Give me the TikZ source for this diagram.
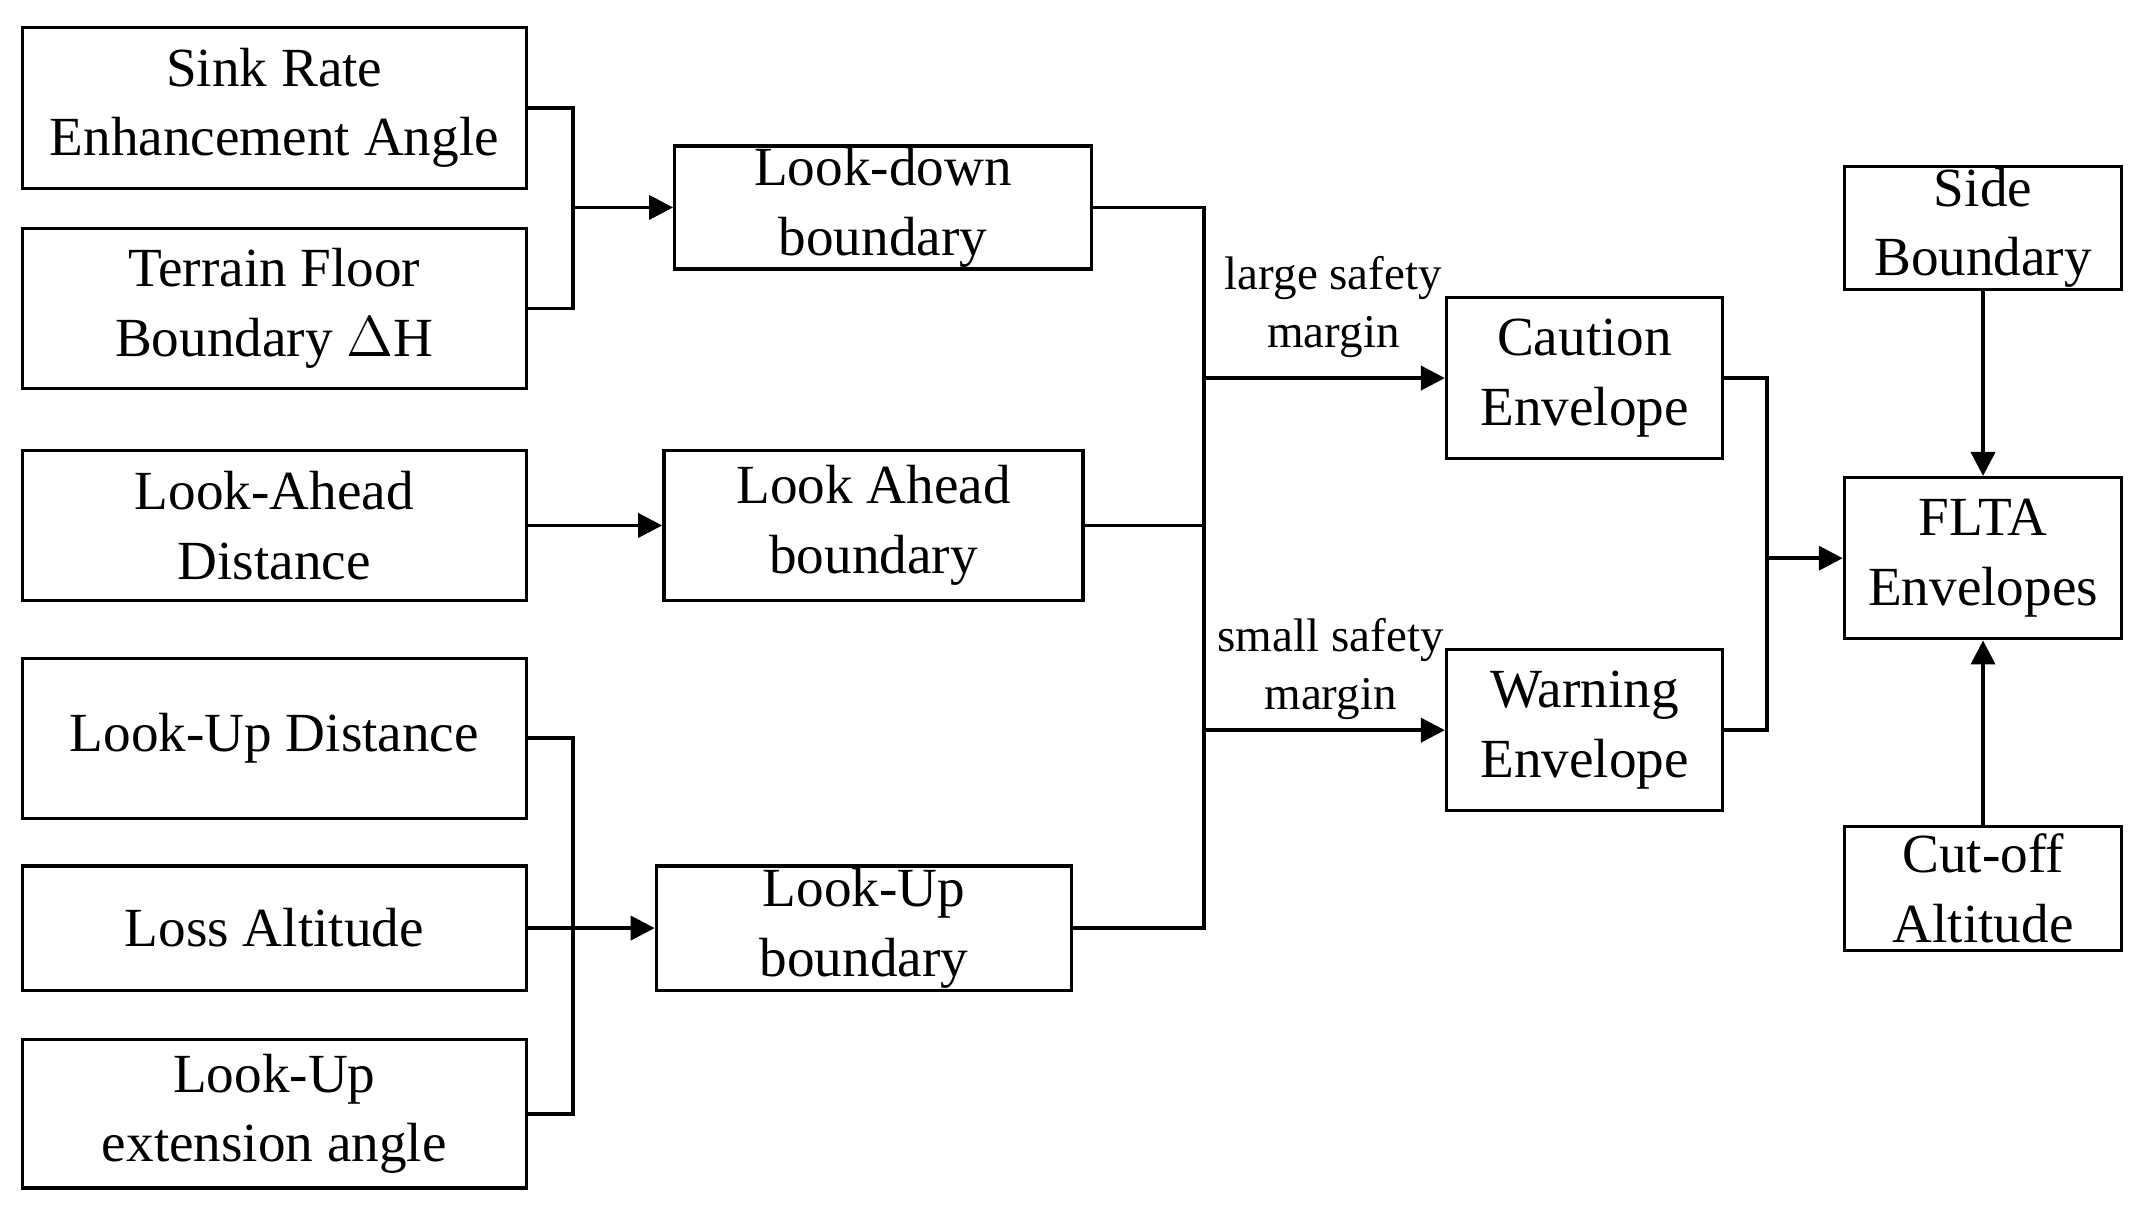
\documentclass[tikz,border=0pt]{standalone}
\usepackage{fontspec}
\setmainfont{Liberation Serif}
\usetikzlibrary{arrows.meta}
\begin{document}
\begin{tikzpicture}[x=0.01cm,y=-0.01cm,
 box/.style={draw,line width=0.7pt,inner sep=0pt,align=center,font=\fontsize{11.5}{14.5}\selectfont},
 ln/.style={line width=0.8pt},
 ar/.style={line width=0.8pt,-{Triangle[length=5pt,width=5pt]}},
 lab/.style={align=center,font=\fontsize{9.8}{12}\selectfont}]
\useasboundingbox (0,0) rectangle (1568,884);
\node[box,minimum width=3.69cm,minimum height=1.18cm] (sink) at (201,79) {Sink Rate\\Enhancement Angle};
\node[box,minimum width=3.69cm,minimum height=1.17cm] (terr) at (201,226) {Terrain Floor\\Boundary $\Delta$H};
\node[box,minimum width=3.69cm,minimum height=1.10cm] (lad) at (201,385) {Look-Ahead\\Distance};
\node[box,minimum width=3.69cm,minimum height=1.17cm] (lud) at (201,541) {Look-Up Distance};
\node[box,minimum width=3.69cm,minimum height=0.91cm] (loss) at (201,680) {Loss Altitude};
\node[box,minimum width=3.69cm,minimum height=1.09cm] (lue) at (201,816) {Look-Up\\extension angle};
\node[box,minimum width=3.05cm,minimum height=0.90cm] (ldb) at (647,152) {Look-down\\boundary};
\node[box,minimum width=3.07cm,minimum height=1.10cm] (lab) at (640,385) {Look Ahead\\boundary};
\node[box,minimum width=3.04cm,minimum height=0.91cm] (lub) at (633,680) {Look-Up\\boundary};
\node[box,minimum width=2.02cm,minimum height=1.18cm] (cau) at (1161,277) {Caution\\Envelope};
\node[box,minimum width=2.02cm,minimum height=1.18cm] (war) at (1161,535) {Warning\\Envelope};
\node[box,minimum width=2.03cm,minimum height=0.90cm] (side) at (1453,167) {Side\\Boundary};
\node[box,minimum width=2.03cm,minimum height=1.18cm] (flta) at (1453,409) {FLTA\\Envelopes};
\node[box,minimum width=2.03cm,minimum height=0.91cm] (cut) at (1453,651) {Cut-off\\Altitude};
\coordinate (j1) at (420,152);
\coordinate (j2) at (420,680);
\coordinate (bt) at (882,152);
\coordinate (bb) at (882,680);
\coordinate (bc) at (882,277);
\coordinate (bw) at (882,535);
\coordinate (j3) at (1295,409);
\draw[ln] (sink.east) -| (j1) |- (terr.east);
\draw[ar] (j1) -- (ldb.west);
\draw[ar] (lad.east) -- (lab.west);
\draw[ln] (lud.east) -| (j2) |- (lue.east);
\draw[ar] (loss.east) -- (lub.west);
\draw[ln] (ldb.east) -| (bt) -- (bb) -- (lub.east);
\draw[ln] (lab.east) -- (lab.east -| bt);
\draw[ar] (bc) -- (cau.west);
\draw[ar] (bw) -- (war.west);
\draw[ln] (cau.east) -| (j3) |- (war.east);
\draw[ar] (j3) -- (flta.west);
\draw[ar] (side.south) -- (flta.north);
\draw[ar] (cut.north) -- (flta.south);
\node[lab] (l1) at (977,225) {large safety\\margin};
\node[lab] (l2) at (975,490) {small safety\\margin};
\end{tikzpicture}
\end{document}
